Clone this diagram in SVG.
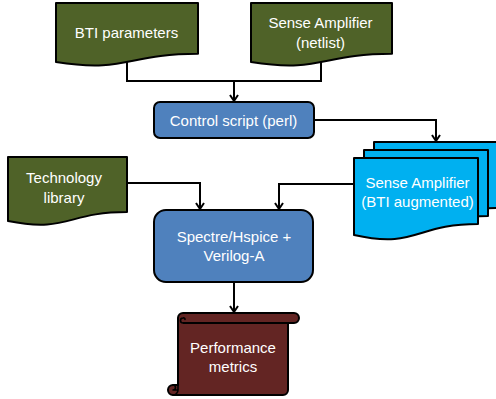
<svg xmlns="http://www.w3.org/2000/svg" width="496" height="399" viewBox="0 0 496 399">
  <style>
    .ln { fill: none; stroke: #000; stroke-width: 2; }
    .curl { fill: none; stroke: #000; stroke-width: 1.6; stroke-linejoin: round; stroke-linecap: round; }
    .nd { stroke: #000; stroke-width: 2; stroke-linejoin: round; }
    .doc { fill: #4F6228; }
    .proc { fill: #4F81BD; }
    .multi { fill: #00B0F0; }
    .scroll { fill: #632523; }
    text { font-family: "Liberation Sans", Arial, sans-serif; font-size: 15px; fill: #ffffff; text-anchor: middle; }
  </style>
  <defs>
    <marker id="arr" markerWidth="10" markerHeight="10" refX="8" refY="5" orient="auto" markerUnits="userSpaceOnUse">
      <path d="M2,1 L8,5 L2,9" fill="none" stroke="#000" stroke-width="2"/>
    </marker>
  </defs>

  <!-- connectors -->
  <g id="connectors">
    <polyline class="ln" points="127,62 127,81 321,81 321,58"/>
    <line class="ln" x1="234" y1="81" x2="234" y2="101" marker-end="url(#arr)"/>
    <polyline class="ln" points="314,120 436,120 436,141" marker-end="url(#arr)"/>
    <polyline class="ln" points="127,183 200,183 200,209" marker-end="url(#arr)"/>
    <polyline class="ln" points="354,184 279,184 279,209" marker-end="url(#arr)"/>
    <line class="ln" x1="234" y1="282" x2="234" y2="312" marker-end="url(#arr)"/>
  </g>

  <!-- data inputs -->
  <g id="bti-parameters">
    <path class="nd doc" d="M56,3 H198 V53.7 C127,53.7 127,73 56,62 Z"/>
    <text x="126.5" y="38">BTI parameters</text>
  </g>

  <g id="sense-amp-netlist">
    <path class="nd doc" d="M251,3 H392 V53.7 C321.5,53.7 321.5,73 251,62 Z"/>
    <text x="320.5" y="28">Sense Amplifier</text>
    <text x="320.5" y="48">(netlist)</text>
  </g>

  <g id="control-script">
    <rect class="nd proc" x="154" y="102" width="160" height="36" rx="6"/>
    <text x="233.5" y="126">Control script (perl)</text>
  </g>

  <g id="sense-amp-augmented">
    <path class="nd multi" d="M374,142 H498 V208 C436,208 436,233 374,219 Z"/>
    <path class="nd multi" d="M364,150 H488 V216 C426,216 426,241 364,227 Z"/>
    <path class="nd multi" d="M354,158 H478 V224 C416,224 416,249 354,235 Z"/>
    <text x="417.5" y="188">Sense Amplifier</text>
    <text x="417.5" y="207">(BTI augmented)</text>
  </g>

  <g id="technology-library">
    <path class="nd doc" d="M8,157 H127 V212 C67.5,212 67.5,233 8,221 Z"/>
    <text x="64" y="183">Technology</text>
    <text x="64" y="203">library</text>
  </g>

  <g id="simulator">
    <rect class="nd proc" x="154" y="210" width="159" height="72" rx="12"/>
    <text x="234" y="241.5">Spectre/Hspice +</text>
    <text x="234" y="261">Verilog-A</text>
  </g>

  <g id="performance-metrics">
    <path class="nd scroll" d="M178,318 A5,5 0 0 1 183,313 H294 A5,5 0 0 1 294,323 H288 V390 A5,5 0 0 1 283,395 H173 A5,5 0 0 1 173,385 H178 Z"/>
    <!-- roll edges and curls -->
    <path class="ln" d="M183,323 H294"/>
    <path class="curl" d="M183,323 A2.5,2.5 0 0 1 183,318 A1.5,1.5 0 0 1 185,319.5"/>
    <path class="curl" d="M178,385 V390 A5,5 0 0 1 173,395 M173,385 A2.5,2.5 0 0 1 173,390 H178"/>
    <text x="233" y="352.5">Performance</text>
    <text x="233" y="371.5">metrics</text>
  </g>
</svg>
